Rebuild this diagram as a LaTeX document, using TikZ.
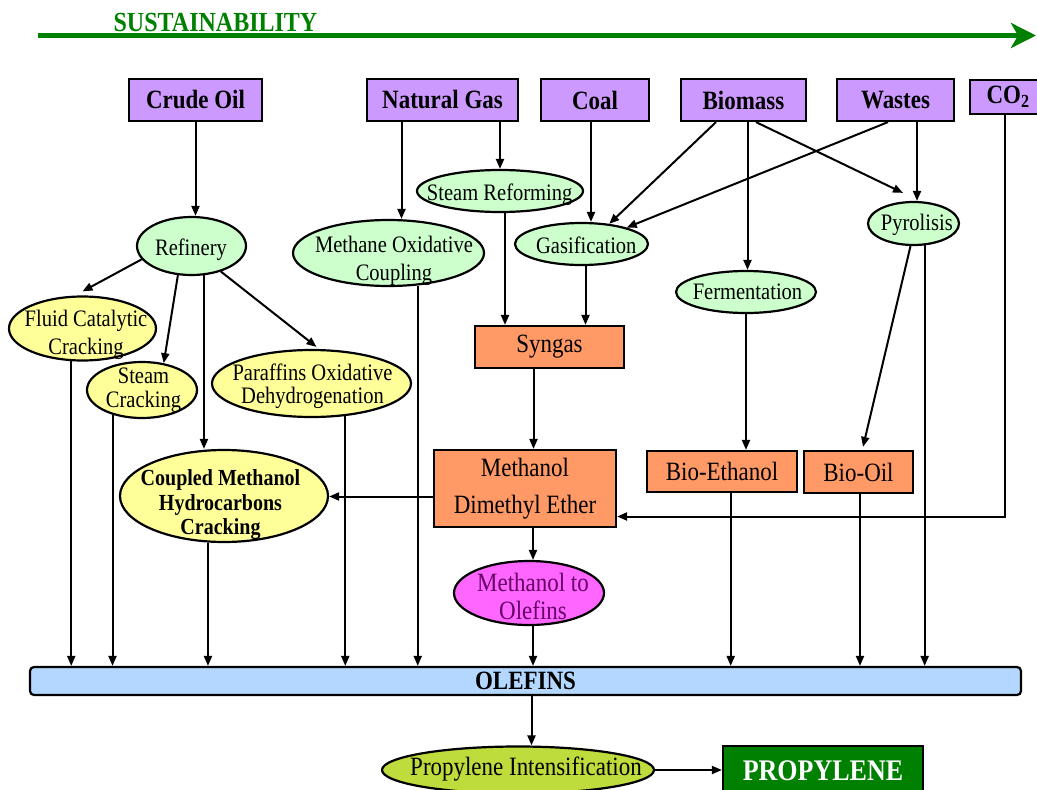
\documentclass[tikz,border=0pt]{standalone}
\usepackage{fontspec}
\setmainfont{Liberation Serif}[FakeStretch=0.87]
\usetikzlibrary{shapes.geometric,arrows.meta}

\definecolor{srcpurple}{HTML}{CC99FF}
\definecolor{procgreen}{HTML}{CCFFCC}
\definecolor{crackyellow}{HTML}{FFFF99}
\definecolor{prodorange}{HTML}{FF9966}
\definecolor{olefinblue}{HTML}{B3D7FF}
\definecolor{mtopink}{HTML}{FF66FF}
\definecolor{mtotext}{HTML}{660066}
\definecolor{propgreen}{HTML}{BEDC3C}
\definecolor{darkgreen}{HTML}{008000}

\newcommand{\srcfont}{\fontsize{26.4}{30}\selectfont\bfseries}
\newcommand{\procfont}[1]{\fontsize{23.6}{#1}\selectfont}
\newcommand{\crackbold}[1]{\fontsize{23}{#1}\selectfont\bfseries}
\newcommand{\prodfont}[1]{\fontsize{26.4}{#1}\selectfont}
\newcommand{\propfont}{\fontsize{29.9}{34}\selectfont\bfseries}
\newcommand{\susfont}{\fontsize{27.6}{32}\selectfont\bfseries}

\begin{document}
\begin{tikzpicture}[x=1pt, y=-1pt,
  srcbox/.style={draw, line width=2.2pt, fill=srcpurple, minimum height=42pt, inner sep=0pt, font=\srcfont},
  procell/.style={draw, ellipse, line width=2.2pt, fill=procgreen, inner sep=0pt},
  crackell/.style={procell, fill=crackyellow},
  prodbox/.style={draw, line width=2.2pt, fill=prodorange, inner sep=0pt, align=center, font=\prodfont{37}},
  ptext/.style={inner sep=0pt, align=center, font=\procfont{28}},
  flow/.style={line width=2pt, -{Triangle[length=10pt,width=8pt]}}]

  \useasboundingbox (0,0) rectangle (1037,790);

  % Sustainability arrow
  \coordinate (susL) at (38,35.5);
  \coordinate (susR) at (1036,35.5);
  \draw[darkgreen, line width=5pt, -{Stealth[length=25pt,width=25pt,inset=7pt]}] (susL) -- (susR);
  \node[font=\susfont, text=darkgreen, inner sep=0pt] (sus) at (215.5,22.5) {SUSTAINABILITY};

  % Raw materials
  \node[srcbox, minimum width=133pt] (crude) at (195.5,100) {Crude Oil};
  \node[srcbox, minimum width=151pt] (natgas) at (442.5,100) {Natural Gas};
  \node[srcbox, minimum width=108pt] (coal) at (595,100) {Coal};
  \node[srcbox, minimum width=125pt] (biomass) at (743.5,100) {Biomass};
  \node[srcbox, minimum width=117pt] (wastes) at (895.5,100) {Wastes};
  \node[srcbox, minimum width=76pt, minimum height=34pt, anchor=north west] (co2) at (969,79) {CO\textsubscript{2}};

  % Conversion processes
  \node[procell, minimum width=166pt, minimum height=42pt] (steamref) at (500,191) {};
  \node[procell, minimum width=109pt, minimum height=58pt] (refinery) at (191.5,246) {};
  \node[procell, minimum width=191pt, minimum height=66pt] (moc) at (388.5,253) {};
  \node[procell, minimum width=133pt, minimum height=42pt] (gasif) at (581.5,244) {};
  \node[procell, minimum width=140pt, minimum height=42pt] (ferm) at (746,292) {};
  \node[procell, minimum width=91pt, minimum height=43pt] (pyro) at (913.5,223.5) {};
  \node[ptext] (steamreftxt) at (499.7,194.6) {Steam Reforming};
  \node[ptext] (refinerytxt) at (191,249.6) {Refinery};
  \node[ptext] (moctxt) at (394,260.4) {Methane Oxidative\\Coupling};
  \node[ptext] (gasiftxt) at (586.3,245.3) {Gasification};
  \node[ptext] (fermtxt) at (747.5,292) {Fermentation};
  \node[ptext] (pyrotxt) at (916.8,225.3) {Pyrolisis};

  % Cracking routes
  \node[crackell, minimum width=147pt, minimum height=64pt] (fcc) at (82.5,328.5) {};
  \node[crackell, minimum width=110pt, minimum height=56pt] (steamcrack) at (142,390) {};
  \node[crackell, minimum width=199pt, minimum height=67pt] (paraffins) at (311.5,383.5) {};
  \node[crackell, minimum width=208pt, minimum height=92pt] (coupled) at (224,496) {};
  \node[ptext] (fcctxt) at (86,334.5) {Fluid Catalytic\\Cracking};
  \node[ptext, font=\procfont{24}] (steamcracktxt) at (143.5,390) {Steam\\Cracking};
  \node[ptext, font=\procfont{23}] (paraffinstxt) at (312.5,386.5) {Paraffins Oxidative\\Dehydrogenation};
  \node[ptext, font=\crackbold{24.5}] (coupledtxt) at (220.5,505) {Coupled Methanol\\Hydrocarbons\\Cracking};

  % Intermediates
  \node[prodbox, minimum width=149pt, minimum height=42pt] (syngas) at (549.5,347) {Syngas};
  \node[prodbox, minimum width=182pt, minimum height=77pt] (dme) at (525,488.5) {Methanol\\Dimethyl Ether};
  \node[prodbox, minimum width=150pt, minimum height=41pt] (bioeth) at (722,471.5) {Bio-Ethanol};
  \node[prodbox, minimum width=109pt, minimum height=42pt] (biooil) at (858.5,472) {Bio-Oil};
  \node[procell, fill=mtopink, minimum width=150pt, minimum height=64pt] (mto) at (529,593) {};
  \node[ptext, font=\prodfont{28}, text=mtotext] (mtotxt) at (533,596.7) {Methanol to\\Olefins};

  % Olefins and propylene
  \node[draw, line width=2.2pt, rounded corners=4pt, fill=olefinblue, minimum width=991pt, minimum height=28pt, inner sep=0pt, font=\srcfont] (olefins) at (525.5,681) {OLEFINS};
  \node[procell, fill=propgreen, minimum width=272pt, minimum height=47pt] (propint) at (518,770) {};
  \node[ptext, font=\prodfont{30}] (propinttxt) at (526,769) {Propylene Intensification};
  \node[draw, line width=2.2pt, fill=darkgreen, text=white, font=\propfont, minimum width=200pt, minimum height=50pt, inner sep=0pt] (propylene) at (823,771) {PROPYLENE};

  % Draw edges
  \draw[flow] (crude.south) -- (crude.south |- refinery.north);
  \draw[flow] ([xshift=-41pt]natgas.south) -- ([xshift=-41pt]natgas.south |- moc.north);
  \draw[flow] (natgas.south -| steamref.north) -- (steamref.north);
  \draw[flow] ([xshift=-4pt]coal.south) -- ([xshift=-4pt]coal.south |- gasif.north);
  \draw[flow] ([xshift=-27.5pt]biomass.south) -- (gasif.36);
  \draw[flow] ([xshift=4pt]biomass.south) -- ([xshift=4pt]biomass.south |- ferm.north);
  \draw[flow] ([xshift=12.5pt]biomass.south) -- ([xshift=-10.5pt,yshift=8pt]pyro.north);
  \draw[flow] ([xshift=-7.5pt]wastes.south) -- (gasif.20);
  \draw[flow] ([xshift=21.5pt]wastes.south) -- ([xshift=21.5pt]wastes.south |- pyro.north);
  \draw[flow] ([xshift=-3pt]co2.south) |- ([yshift=-28pt]dme.east);

  \draw[flow] (refinery.195) -- ([yshift=4pt]fcc.north);
  \draw[flow] (refinery.245) -- (steamcrack.51);
  \draw[flow] (refinery.293) -- (refinery.293 |- coupled.north);
  \draw[flow] (refinery.319) -- ([xshift=5pt,yshift=2pt]paraffins.north);

  \draw[flow] ([xshift=5pt]steamref.south) -- ([xshift=5pt]steamref.south |- syngas.north);
  \draw[flow] ([xshift=4pt]gasif.south) -- ([xshift=4pt]gasif.south |- syngas.north);
  \draw[flow] ([xshift=-16pt]syngas.south) -- ([xshift=-16pt]syngas.south |- dme.north);
  \draw[flow] ([yshift=-8pt]dme.west) -- ([yshift=-8pt]dme.west -| coupled.east);
  \draw[flow] ([xshift=8pt]dme.south) -- ([xshift=8pt]dme.south |- mto.north);
  \draw[flow] (ferm.south) -- (ferm.south |- bioeth.north);
  \draw[flow] ([xshift=-3pt]pyro.south) -- ([xshift=4.5pt,yshift=3pt]biooil.north);

  \draw[flow] (fcc.251) -- (fcc.251 |- olefins.north);
  \draw[flow] (steamcrack.220) -- (steamcrack.220 |- olefins.north);
  \draw[flow] (coupled.251) -- (coupled.251 |- olefins.north);
  \draw[flow] (paraffins.316) -- (paraffins.316 |- olefins.north);
  \draw[flow] (moc.312) -- (moc.312 |- olefins.north);
  \draw[flow] ([xshift=4pt]mto.south) -- ([xshift=4pt]mto.south |- olefins.north);
  \draw[flow] ([xshift=8.7pt]bioeth.south) -- ([xshift=8.7pt]bioeth.south |- olefins.north);
  \draw[flow] ([xshift=1.5pt]biooil.south) -- ([xshift=1.5pt]biooil.south |- olefins.north);
  \draw[flow] (pyro.297) -- (pyro.297 |- olefins.north);
  \draw[flow] ([xshift=6pt]olefins.south) -- ([xshift=6pt]olefins.south |- propint.north);
  \draw[flow] (propint.east) -- (propint.east -| propylene.west);
\end{tikzpicture}
\end{document}
